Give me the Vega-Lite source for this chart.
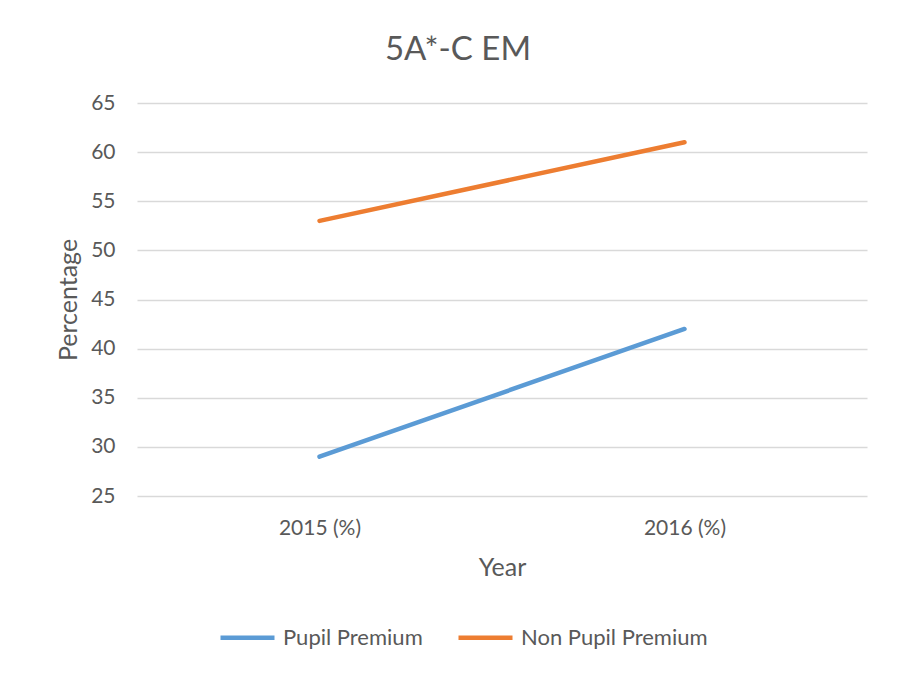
{
  "$schema": "https://vega.github.io/schema/vega-lite/v6.json",
  "autosize": "none",
  "width": 730,
  "height": 393,
  "padding": {"left": 137, "top": 103, "right": 32, "bottom": 177},
  "background": "white",
  "title": {
    "text": "5A*-C EM",
    "fontSize": 33,
    "font": "Lato",
    "fontWeight": "normal",
    "color": "#595959",
    "anchor": "middle",
    "dx": -44,
    "offset": 25
  },
  "data": {
    "values": [
      {"year": "2015 (%)", "series": "Pupil Premium", "value": 29},
      {"year": "2016 (%)", "series": "Pupil Premium", "value": 42},
      {"year": "2015 (%)", "series": "Non Pupil Premium", "value": 53},
      {"year": "2016 (%)", "series": "Non Pupil Premium", "value": 61}
    ]
  },
  "mark": {"type": "line", "strokeWidth": 4.5, "strokeCap": "round"},
  "encoding": {
    "x": {
      "field": "year",
      "type": "nominal",
      "scale": {"type": "point", "padding": 0.5},
      "axis": {
        "title": "Year",
        "labelAngle": 0,
        "domain": false,
        "ticks": false,
        "grid": false,
        "labelFontSize": 21,
        "labelPadding": 21,
        "titleFontSize": 25,
        "titlePadding": 17,
        "titleFontWeight": "normal"
      }
    },
    "y": {
      "field": "value",
      "type": "quantitative",
      "scale": {"domain": [25, 65], "nice": false, "zero": false},
      "axis": {
        "title": "Percentage",
        "values": [25, 30, 35, 40, 45, 50, 55, 60, 65],
        "domain": false,
        "ticks": false,
        "labelFontSize": 21,
        "labelPadding": 22,
        "titleFontSize": 25,
        "titlePadding": 9,
        "titleFontWeight": "normal"
      }
    },
    "color": {
      "field": "series",
      "type": "nominal",
      "sort": ["Pupil Premium", "Non Pupil Premium"],
      "scale": {"domain": ["Pupil Premium", "Non Pupil Premium"], "range": ["#5B9BD5", "#ED7D31"]},
      "legend": {
        "title": null,
        "orient": "none",
        "direction": "horizontal",
        "legendX": 81,
        "legendY": 505,
        "symbolType": "stroke",
        "symbolSize": 2916,
        "symbolStrokeWidth": 4.5,
        "labelFontSize": 22,
        "labelOffset": 6,
        "labelLimit": 400,
        "columnPadding": 26
      }
    }
  },
  "config": {
    "font": "Lato",
    "view": {"stroke": null},
    "axis": {
      "labelColor": "#595959",
      "titleColor": "#595959",
      "gridColor": "#D9D9D9",
      "gridWidth": 1.5,
      "labelFont": "Lato",
      "titleFont": "Lato"
    },
    "legend": {"labelColor": "#595959", "labelFont": "Lato"}
  }
}
